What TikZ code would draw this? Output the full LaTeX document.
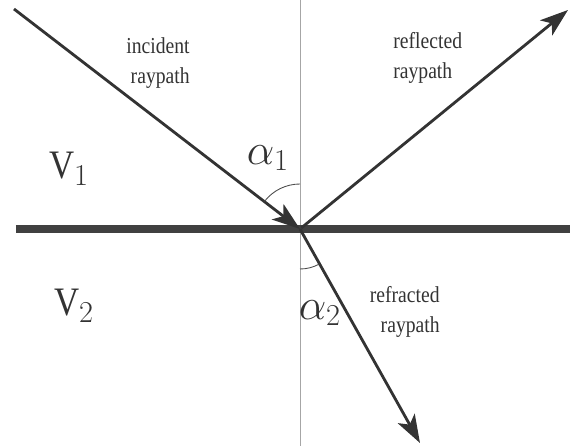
\documentclass[tikz,border=0pt]{standalone}
\usepackage{fontspec}
\setmainfont{Liberation Serif}
\newfontfamily\narrowserif[FakeStretch=0.86]{Liberation Serif}
\usetikzlibrary{arrows.meta}
\begin{document}
\begin{tikzpicture}[
  ray/.style={line width=1.6pt,draw=black!80,-{Stealth[length=16pt,width=11pt,inset=4pt]}},
  lbl/.style={font=\narrowserif\fontsize{13}{17.5}\selectfont,text=black!80,inner sep=0pt},
  big/.style={font=\narrowserif\fontsize{23}{26}\selectfont,text=black!80,inner sep=0pt}]
\useasboundingbox (-6,-4.34) rectangle (5.4,4.58);
\coordinate (O) at (0,0);
\coordinate (src) at (-5.72,4.40);
\coordinate (refl) at (5.36,4.38);
\coordinate (refr) at (2.4,-4.28);
\coordinate (nTop) at (0,4.58);
\coordinate (nBot) at (0,-4.34);
\coordinate (bL) at (-5.68,0);
\coordinate (bR) at (5.4,0);
% normal and interface
\draw[black!35,line width=0.5pt] (nTop) -- (nBot);
\draw[black!75,line width=4.4pt] (bL) -- (bR);
% ray paths
\draw[ray] (src) -- (O);
\draw[ray,shorten <=1pt] (O) -- (refl);
\draw[ray] (O) -- (refr);
% angles
\draw[black!70,line width=0.5pt] (0,0.9) arc[start angle=90,end angle=142,radius=0.9];
\draw[black!70,line width=0.5pt] (0,-0.8) arc[start angle=270,end angle=299,radius=0.8];
\node[lbl,align=right,anchor=east] (inc) at (-2.2,3.32) {incident\\raypath};
\node[lbl,align=left,anchor=west] (rfl) at (1.86,3.42) {reflected\\raypath};
\node[lbl,align=right,anchor=east] (rfr) at (2.8,-1.66) {refracted\\raypath};
\node[big] (v1) at (-4.62,1.2) {V$_1$};
\node[big] (v2) at (-4.52,-1.54) {V$_2$};
\node[big] (a1) at (-0.64,1.42) {$\alpha_1$};
\node[big] (a2) at (0.4,-1.68) {$\alpha_2$};
\end{tikzpicture}
\end{document}
